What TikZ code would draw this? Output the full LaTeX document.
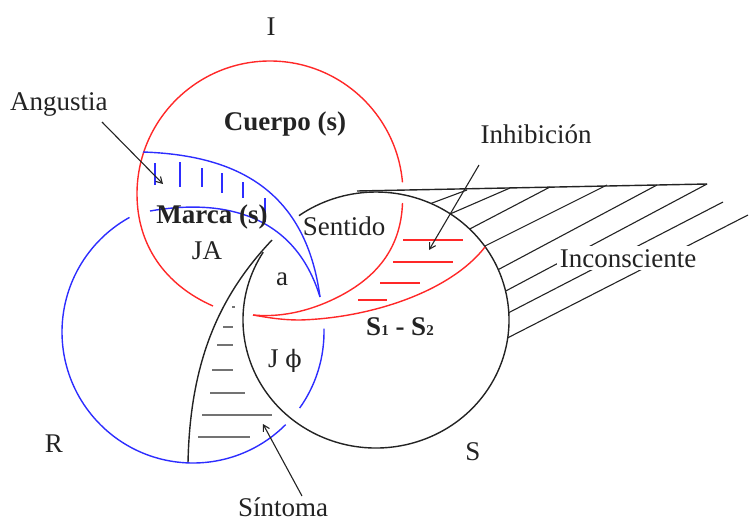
\documentclass[tikz,border=0pt]{standalone}
\usepackage{fontspec}
\setmainfont{Liberation Serif}
\newfontfamily\phifont{DejaVu Serif}
\usetikzlibrary{arrows.meta}
\definecolor{ired}{RGB}{255,40,40}
\definecolor{iblue}{RGB}{45,45,255}
\definecolor{hgray}{RGB}{115,115,115}
\definecolor{ink}{RGB}{35,35,35}
\begin{document}
\begin{tikzpicture}[x=1pt,y=-1pt,
  lbl/.style={font=\fontsize{27}{32}\selectfont, inner sep=0pt, text=ink},
  blbl/.style={lbl, font=\fontsize{27}{32}\selectfont\bfseries},
  redline/.style={ired, line width=1.4pt},
  blueline/.style={iblue, line width=1.4pt},
  blackline/.style={ink, line width=1.4pt},
  hatchline/.style={ink, line width=1.1pt},
  redhatch/.style={ired, line width=1.4pt},
  bluehatch/.style={iblue, line width=2pt},
  grayhatch/.style={hgray, line width=2pt},
  ptr/.style={ink, line width=1.1pt, -{Straight Barb[length=6pt,width=7pt]}},
]
\useasboundingbox (0,0) rectangle (749,522);

% ---------- black S ellipse ----------
\draw[blackline] (376,320) ++(212:133 and 128)
  arc[start angle=212, end angle=-125.4, x radius=133, y radius=128];
% Inconsciente top line
\coordinate (topL) at (357,191);
\coordinate (topR) at (707,184);
\draw[blackline] (topL) -- (topR);
% hatch lines outside S
\begin{scope}[even odd rule]
  \clip (340,150) rectangle (760,420) (376,320) ellipse [x radius=133, y radius=128];
  \draw[hatchline] (467,190) -- (400,215);
  \draw[hatchline] (510,188) -- (420,227);
  \draw[hatchline] (550,187) -- (420,255);
  \draw[hatchline] (607,185) -- (440,268.5);
  \draw[hatchline] (657,185) -- (460,290);
  \draw[hatchline] (707,184) -- (470,310);
  \draw[hatchline] (723,202) -- (480,327.5);
  \draw[hatchline] (748,215) -- (480,352);
\end{scope}
\node[lbl, fill=white, inner sep=3pt, anchor=base] (incons) at (628,267) {Inconsciente};

% ---------- Sintoma crescent ----------
\draw[blackline] (272,240) .. controls (220,295) and (190,360) .. (188,463);
\draw[grayhatch] (232,307) -- (235,307);
\draw[grayhatch] (223,327) -- (233,327);
\draw[grayhatch] (217,345) -- (233,345);
\draw[grayhatch] (212,370) -- (233,370);
\draw[grayhatch] (210,393) -- (245,393);
\draw[grayhatch] (202,415) -- (272,415);
\draw[grayhatch] (198,437) -- (250,437);

% ---------- red I ----------
\draw[redline] (213,306) .. controls (165,285) and (137,245) .. (137,194)
  arc[start angle=180, end angle=355, radius=133];
\draw[redline] (402.5,203) .. controls (401,245) and (380,275) .. (340,296)
  .. controls (315,309) and (285,318) .. (253,315);
\draw[redline] (485,247) .. controls (450,292) and (370,318) .. (300,320)
  .. controls (280,320) and (265,317) .. (253,315);
\draw[redhatch] (403,240) -- (463,240);
\draw[redhatch] (393,262) -- (453,262);
\draw[redhatch] (380,283) -- (420,283);
\draw[redhatch] (358,300) -- (387,300);

% ---------- blue R ----------
\draw[blueline] (193,332) ++(45:131) arc[start angle=45, end angle=241, radius=131];
\draw[blueline] (193,332) ++(-1.5:131) arc[start angle=-1.5, end angle=35.5, radius=131];
\draw[blueline] (143,152) .. controls (230,155) and (305,185) .. (320,297);
\draw[blueline] (150,211) .. controls (225,198) and (295,215) .. (320,297);
\draw[bluehatch] (155,163) -- (155,185);
\draw[bluehatch] (180,162) -- (180,187);
\draw[bluehatch] (202,168) -- (202,187);
\draw[bluehatch] (222,173) -- (222,193);
\draw[bluehatch] (243,182) -- (243,198);
\draw[bluehatch] (265,198) -- (265,222);

% ---------- labels ----------
\node[lbl, anchor=base] (lI) at (271,35) {I};
\node[lbl, anchor=base west] (lang) at (10,110) {Angustia};
\node[blbl, anchor=base] (lcuerpo) at (285,130) {Cuerpo (s)};
\node[blbl, anchor=base] (lmarca) at (212,223) {Marca (s)};
\node[lbl, anchor=base] (lja) at (207,259) {JA};
\node[lbl, anchor=base] (la) at (282,285) {a};
\node[lbl, anchor=base] (lsent) at (344,235) {Sentido};
\node[lbl, anchor=base] (linh) at (536,143) {Inhibición};
\node[blbl, anchor=base] (ls12) at (400,335) {S{\fontsize{15}{15}\selectfont 1} - S{\fontsize{15}{15}\selectfont 2}};
\node[lbl, anchor=base] (ljphi) at (285,367) {J {\phifont\fontsize{24}{28}\selectfont ϕ}};
\node[lbl, anchor=base] (lR) at (54,452) {R};
\node[lbl, anchor=base] (lS) at (473,460) {S};
\node[lbl, anchor=base] (lsint) at (283,516) {Síntoma};

% ---------- pointers ----------
\coordinate (angA) at (102,122);
\coordinate (angB) at (163,184);
\coordinate (inhA) at (479,165);
\coordinate (inhB) at (429,250);
\coordinate (sinA) at (302,496);
\coordinate (sinB) at (263,424);
\draw[ptr] (angA) -- (angB);
\draw[ptr] (inhA) -- (inhB);
\draw[ptr] (sinA) -- (sinB);
\end{tikzpicture}
\end{document}
